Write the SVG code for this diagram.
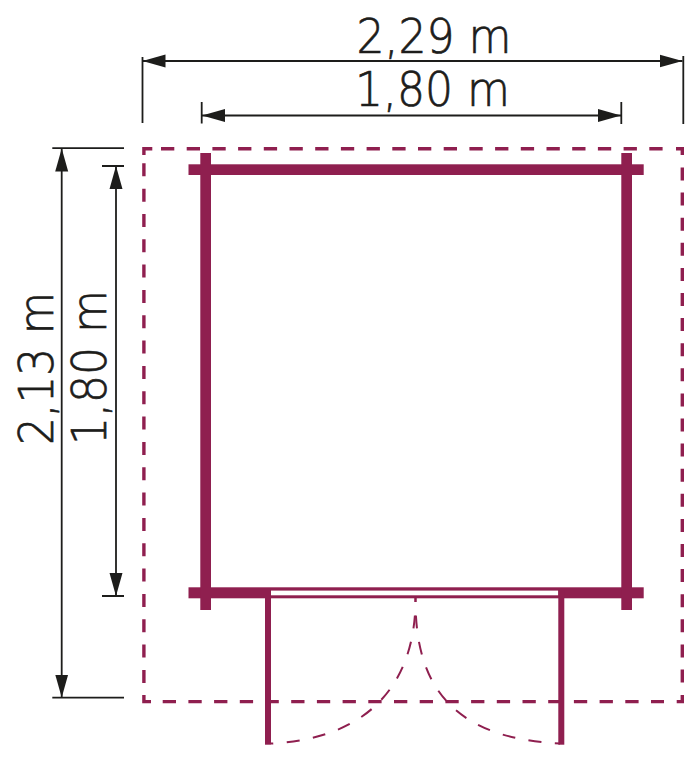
<svg xmlns="http://www.w3.org/2000/svg" width="693" height="761" viewBox="0 0 693 761">
<style>
.dim{stroke:#1d1d1b;stroke-width:1.8;fill:none}
.head{fill:#1d1d1b}
.wall{fill:#8f1f4f}
.plot{fill:none;stroke:#8f1f4f;stroke-width:3.4}
.h{stroke-dasharray:13.3 12.4}
.v{stroke-dasharray:13 12.33}
.vr{stroke-dasharray:13 12.1}
.swing{fill:none;stroke:#8f1f4f;stroke-width:2;stroke-dasharray:13 13.5;stroke-dashoffset:9}
.label{font-family:"DejaVu Sans",sans-serif;font-weight:200;font-size:48px;fill:#1d1d1b;stroke:#1d1d1b;stroke-width:.7}
</style>
<defs>
<marker id="arrow" markerUnits="userSpaceOnUse" markerWidth="24" markerHeight="14" refX="23" refY="6.5" orient="auto-start-reverse" viewBox="0 0 24 13"><path class="head" d="M0 0L23 6.5L0 13Z"/></marker>
</defs>
<rect width="693" height="761" fill="#fff"/>
<g id="connectors">
<path class="dim" d="M142.5 61H682.5" marker-start="url(#arrow)" marker-end="url(#arrow)"/>
<path class="dim" d="M142.5 57V123M683.3 56V124"/>
<path class="dim" d="M202 115.5H621" marker-start="url(#arrow)" marker-end="url(#arrow)"/>
<path class="dim" d="M201.7 102V123.5M621.3 102V124"/>
<path class="dim" d="M61.7 148.5V697.5" marker-start="url(#arrow)" marker-end="url(#arrow)"/>
<path class="dim" d="M52.3 148.2H124M52.3 697.7H124"/>
<path class="dim" d="M116 166V596" marker-start="url(#arrow)" marker-end="url(#arrow)"/>
<path class="dim" d="M102 166H124M102 596H124"/>
</g>
<g id="plot">
<path class="plot h" d="M161 148.7H664"/>
<path class="plot h" d="M162.7 701.6H664"/>
<path class="plot v" d="M143.9 163.3V684"/>
<path class="plot vr" d="M682.3 167.5V684"/>
<path class="plot" d="M143.9 155V148.7H152.3M676 148.7H682.3V155M143.9 695V701.6H151M676.7 701.6H682.3V695"/>
</g>
<g id="cabin">
<rect class="wall" x="188.5" y="164.3" width="455.2" height="10.7"/>
<rect class="wall" x="188.5" y="587.3" width="455.2" height="11"/>
<rect class="wall" x="200.3" y="153" width="10.7" height="457"/>
<rect class="wall" x="621.3" y="153" width="10.7" height="457"/>
</g>
<g id="door">
<rect x="271" y="590.6" width="287.3" height="4.7" fill="#fff"/>
<rect class="wall" x="265" y="590" width="6" height="154.7"/>
<rect class="wall" x="558.3" y="590" width="6" height="154.7"/>
<path class="swing" d="M415.5 598C416 672 380 738 271 743.5"/>
<path class="swing" d="M415.5 598C415 672 440 738 560 743.5"/>
</g>
<g id="labels">
<text class="label" x="356.5" y="52.5" textLength="155" lengthAdjust="spacingAndGlyphs">2,29 m</text>
<text class="label" x="355" y="105.5" textLength="155" lengthAdjust="spacingAndGlyphs">1,80 m</text>
<text class="label" transform="translate(53 445) rotate(-90)" textLength="153" lengthAdjust="spacingAndGlyphs">2,13 m</text>
<text class="label" transform="translate(106 445) rotate(-90)" textLength="155" lengthAdjust="spacingAndGlyphs">1,80 m</text>
</g>
</svg>
